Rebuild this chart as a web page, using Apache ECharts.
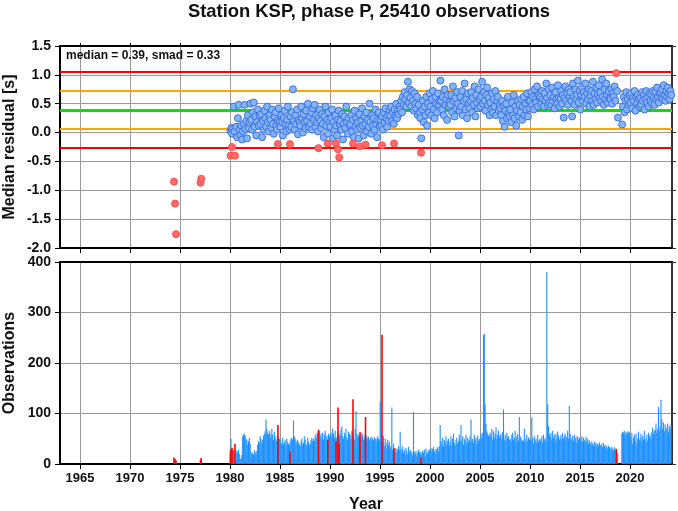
<!DOCTYPE html>
<html><head><meta charset="utf-8">
<script src="https://cdn.jsdelivr.net/npm/echarts@6/dist/echarts.min.js"></script>
<style>html,body{margin:0;padding:0;background:#fff}#c{width:678px;height:511px}</style>
</head><body><div id="c"></div>
<script>
const chartTitle = 'Station KSP, phase P, 25410 observations';
const topAxisName = 'Median residual [s]';
const bottomAxisName = 'Observations';
const medianValue = 0.39;
const smadValue = 0.33;
const xTicks = [1965, 1970, 1975, 1980, 1985, 1990, 1995, 2000, 2005, 2010, 2015, 2020];
const monthlyYears = [1980,1981,1982,1983,1984,1985,1986,1987,1988,1989,1990,1991,1992,1993,1994,1995,1996,1997,1998,1999,2000,2001,2002,2003,2004,2005,2006,2007,2008,2009,2010,2011,2012,2013,2014,2015,2016,2017,2018,2019,2020,2021,2022,2023,2024];
const residualByYear = [
 [0.03,0.08,-0.02,0.06,0.45,0.02,null,0.10,-0.08,0.25,0.48,0.05],
 [-0.05,0.12,-0.12,0.02,0.15,0.48,0.06,0.20,-0.10,0.30,0.08,0.18],
 [0.50,0.22,0.05,0.35,0.52,0.10,0.28,-0.05,0.18,0.40,0.12,0.30],
 [0.15,0.32,-0.08,0.20,0.05,0.38,0.25,0.10,0.45,0.18,0.02,0.30],
 [0.22,0.08,0.40,0.15,-0.02,0.28,0.35,0.12,0.05,0.20,0.42,0.18],
 [0.10,0.30,0.18,-0.05,0.25,0.38,0.15,0.02,0.22,0.45,0.12,0.05],
 [0.28,0.10,0.35,0.75,0.20,0.05,0.30,0.15,0.40,-0.03,0.22,0.18],
 [0.12,0.45,0.25,0.00,0.32,0.18,0.08,0.38,0.20,0.50,0.10,0.28],
 [0.15,0.35,0.05,0.42,0.22,0.48,0.10,0.30,0.18,0.02,0.25,0.40],
 [0.20,0.08,0.32,0.15,-0.08,0.28,0.45,0.12,0.22,-0.02,0.35,0.18],
 [0.10,0.25,0.40,-0.10,0.18,0.05,0.30,0.12,-0.05,0.22,0.38,0.15],
 [0.20,0.05,0.32,-0.12,0.15,0.28,0.08,0.45,0.18,-0.02,0.25,0.12],
 [0.15,0.30,0.02,0.22,-0.08,0.38,0.10,0.25,0.05,0.18,-0.10,0.32],
 [0.08,0.20,0.42,0.12,-0.05,0.28,0.15,0.35,0.02,0.22,0.10,0.50],
 [0.18,-0.02,0.30,0.12,0.25,0.05,0.40,0.15,-0.08,0.22,0.35,0.10],
 [0.22,0.12,0.28,0.05,0.35,0.18,0.42,0.25,0.10,0.30,0.20,0.38],
 [0.30,0.45,0.20,0.35,0.15,0.40,0.28,0.50,0.25,0.38,0.32,0.45],
 [0.40,0.55,0.35,0.62,0.48,0.70,0.58,0.45,0.65,0.88,0.52,0.75],
 [0.60,0.45,0.72,0.55,0.38,0.68,0.50,0.42,0.62,0.30,0.48,0.35],
 [0.25,-0.10,0.40,0.55,0.18,0.45,0.30,0.62,0.12,0.50,0.35,0.68],
 [0.45,0.30,0.58,0.72,0.40,0.25,0.62,0.50,0.35,0.68,0.48,0.55],
 [0.90,0.55,0.40,0.62,0.30,0.75,0.48,0.58,0.22,0.65,0.45,0.52],
 [0.48,0.65,0.35,0.80,0.55,0.28,0.60,0.42,0.70,0.50,-0.05,0.38],
 [0.62,0.45,0.72,0.30,0.55,0.85,0.40,0.58,0.25,0.68,0.50,0.42],
 [0.55,0.70,0.35,0.60,0.48,0.80,0.28,0.65,0.52,0.42,0.75,0.58],
 [0.45,0.62,0.88,0.50,0.70,0.55,0.38,0.65,0.78,0.48,0.60,0.30],
 [0.52,0.40,0.68,0.35,0.58,0.45,0.72,0.30,0.55,0.62,0.38,0.48],
 [0.42,0.30,0.55,0.20,0.45,0.10,0.38,0.50,0.25,0.62,0.35,0.28],
 [0.40,0.18,0.52,0.30,0.65,0.25,0.45,0.12,0.38,0.55,0.28,0.48],
 [0.35,0.58,0.22,0.45,0.62,0.30,0.50,0.40,0.68,0.28,0.55,0.42],
 [0.55,0.70,0.48,0.62,0.40,0.75,0.58,0.52,0.80,0.45,0.65,0.60],
 [0.62,0.50,0.72,0.58,0.45,0.68,0.55,0.85,0.60,0.48,0.75,0.52],
 [0.65,0.48,0.78,0.55,0.62,0.42,0.70,0.58,0.50,0.82,0.60,0.45],
 [0.58,0.72,0.50,0.65,0.26,0.60,0.80,0.55,0.68,0.48,0.75,0.62],
 [0.70,0.55,0.28,0.85,0.62,0.48,0.75,0.58,0.66,0.90,0.52,0.72],
 [0.40,0.65,0.78,0.55,0.70,0.62,0.85,0.50,0.68,0.58,0.75,0.45],
 [0.62,0.72,0.55,0.88,0.48,0.68,0.58,0.78,0.52,0.65,0.82,0.60],
 [0.70,0.55,0.92,0.62,0.48,0.75,0.58,0.85,0.65,0.52,0.72,0.60],
 [0.58,0.75,0.50,0.68,0.62,0.80,0.55,null,0.72,0.26,null,null],
 [null,null,0.14,0.45,0.62,0.35,0.55,0.70,0.40,0.58,0.48,0.65],
 [0.52,0.68,0.42,0.60,0.55,0.72,0.38,0.62,0.50,0.65,0.58,0.45],
 [0.60,0.48,0.70,0.55,0.65,0.40,0.58,0.72,0.52,0.62,0.45,0.68],
 [0.55,0.65,0.50,0.72,0.60,0.48,0.70,0.58,0.78,0.62,0.52,0.68],
 [0.70,0.60,0.75,0.58,0.82,0.65,0.55,0.72,0.62,0.78,0.68,0.58],
 [0.72,0.65]
];
const countByYear = [
 [20,50,30,26,28,24,null,27,22,25,28,20],
 [10,12,18,55,58,60,56,50,48,38,45,52],
 [40,25,20,22,18,27,24,20,26,38,45,42],
 [55,50,40,48,56,60,65,88,70,62,58,66],
 [60,52,70,58,48,64,55,50,45,45,55,50],
 [48,42,40,52,38,44,47,36,50,43,40,38],
 [45,50,52,48,86,55,50,40,45,48,42,38],
 [35,45,50,38,42,55,48,40,36,52,44,38],
 [40,48,52,45,50,46,55,60,52,62,58,65],
 [55,60,50,62,48,58,66,52,56,48,60,54],
 [58,62,55,70,60,52,66,54,50,64,58,56],
 [60,68,74,55,50,62,58,70,52,48,64,60],
 [58,50,66,62,55,48,70,105,60,52,58,54],
 [50,63,55,60,48,52,58,45,56,50,54,47],
 [52,48,54,50,47,53,49,51,46,55,50,48],
 [124,60,45,40,55,35,50,42,30,48,38,44],
 [30,35,112,28,40,25,32,22,30,26,35,28],
 [64,30,25,35,22,28,18,32,26,20,34,24],
 [28,22,25,18,103,24,20,26,15,22,28,25],
 [20,24,18,26,22,28,15,30,24,20,26,28],
 [28,32,24,30,34,26,22,30,28,33,25,35],
 [77,45,40,52,35,48,42,55,38,46,50,36],
 [44,55,38,50,60,42,36,48,52,40,45,58],
 [48,77,42,55,38,50,46,58,40,52,44,48],
 [55,88,45,50,42,58,48,52,40,56,46,50],
 [48,60,52,62,255,258,118,80,65,60,55,58],
 [62,55,70,48,65,52,60,73,50,58,66,54],
 [56,60,50,64,108,48,58,45,62,52,55,47],
 [50,45,58,62,48,52,66,44,55,60,47,93],
 [55,52,48,46,45,70,50,42,58,46,53,49],
 [48,45,92,52,40,55,46,50,42,58,44,48],
 [50,46,55,42,58,48,52,45,380,118,75,60],
 [55,62,48,66,52,58,45,60,50,64,56,48],
 [52,58,46,62,50,55,60,48,54,66,50,115],
 [60,52,48,56,45,58,50,54,42,55,48,52],
 [50,46,55,44,52,48,42,54,45,50,40,47],
 [42,38,45,40,36,44,39,42,35,40,37,43],
 [38,35,40,33,42,36,32,38,34,30,36,33],
 [32,28,34,30,26,33,29,null,24,20,null,null],
 [null,null,60,64,62,66,58,63,60,65,61,64],
 [55,48,62,40,52,58,45,60,38,50,64,47],
 [52,60,44,56,48,66,50,42,58,46,62,54],
 [58,50,64,72,60,66,68,80,62,70,113,65],
 [75,127,88,70,82,65,78,72,68,80,62,75],
 [70,78]
];
// flagged (red) entries
const redTimes =     [1974.40,1974.50,1974.60,1977.05,1977.12,1980.05,1980.20,1980.50,1984.79,1986.00,1988.85,1989.78,1990.60,1990.80,1990.92,1992.30,1993.00,1993.55,1995.20,1996.40,1999.10,2018.62];
const redResiduals = [-0.85,-1.23,-1.76,-0.87,-0.80,-0.40,-0.25,-0.40,-0.20,-0.20,-0.27,-0.19,-0.19,-0.29,-0.43,-0.19,-0.24,-0.21,-0.22,-0.19,-0.35,1.03];
const redCounts =    [13,10,7,8,12,28,32,40,77,25,68,48,45,112,40,128,63,93,256,31,13,30];

const FONT = '"Liberation Sans", Arial, Helvetica, sans-serif';
const blueScatter = [], blueBars = [];
monthlyYears.forEach((y, i) => {
  residualByYear[i].forEach((v, m) => {
    const t = y + (m + 0.5) / 12;
    if (v !== null) blueScatter.push([t, v]);
    const c = countByYear[i][m];
    if (c !== null && c !== undefined) blueBars.push([t, c]);
  });
});
const redScatter = redTimes.map((t, i) => [t, redResiduals[i]]);
const redBars = redTimes.map((t, i) => [t, redCounts[i]]);

const refLines = [
  { v: medianValue + 2 * smadValue, c: '#ff0000', w: 2 },
  { v: medianValue - 2 * smadValue, c: '#ff0000', w: 2 },
  { v: medianValue + smadValue, c: '#ffa500', w: 2 },
  { v: medianValue - smadValue, c: '#ffa500', w: 2 },
  { v: medianValue, c: '#00e600', w: 3 }
];

const XMIN = 1963, XMAX = 2024.2;
function xAxisCfg(gridIndex, pos, opts) {
  return Object.assign({
    type: 'value', gridIndex: gridIndex, position: pos, min: XMIN, max: XMAX,
    axisLine: { show: true, onZero: false, lineStyle: { color: '#000', width: 2 } },
    axisTick: { show: true, customValues: xTicks, length: 5, lineStyle: { color: '#000', width: 1 } },
    axisLabel: { show: false },
    splitLine: { show: false }
  }, opts);
}
function yAxisCfg(gridIndex, pos, min, max, interval, opts) {
  return Object.assign({
    type: 'value', gridIndex: gridIndex, position: pos, min: min, max: max, interval: interval,
    axisLine: { show: true, onZero: false, lineStyle: { color: '#000', width: 2 } },
    axisTick: { show: true, length: 5, lineStyle: { color: '#000', width: 1 } },
    axisLabel: { show: false },
    splitLine: { show: false }
  }, opts);
}
const labelStyle = { fontFamily: FONT, fontWeight: 'bold', fontSize: 14, color: '#111' };
const nameStyle = { fontFamily: FONT, fontWeight: 'bold', fontSize: 16, color: '#111' };
const gridLineStyle = { show: true, lineStyle: { color: '#9a9a9a', width: 1 } };

function sideName(text, cy) {
  return {
    type: 'text', x: 10, y: cy, rotation: Math.PI / 2, z: 10,
    style: { text: text, fill: '#111', font: 'bold 16px ' + FONT, align: 'center', verticalAlign: 'middle', textAlign: 'center', textVerticalAlign: 'middle' }
  };
}

const chart = echarts.init(document.getElementById('c'), null, { renderer: 'canvas' });
chart.setOption({
  backgroundColor: '#fff',
  animation: false,
  title: [
    { text: chartTitle, left: 364, top: -2, textAlign: 'center',
      textStyle: { fontFamily: FONT, fontWeight: 'bold', fontSize: 18.4, color: '#111' } },
    { text: 'median = ' + medianValue.toFixed(2) + ', smad = ' + smadValue.toFixed(2), left: 61, top: 45,
      textStyle: { fontFamily: FONT, fontWeight: 'bold', fontSize: 12, color: '#111' } }
  ],
  graphic: [ sideName(topAxisName, 147), sideName(bottomAxisName, 363) ],
  grid: [
    { left: 60, top: 46, width: 612, height: 202, containLabel: false, outerBoundsMode: 'none' },
    { left: 60, top: 262, width: 612, height: 202, containLabel: false, outerBoundsMode: 'none' }
  ],
  xAxis: [
    xAxisCfg(0, 'bottom', { splitLine: gridLineStyle }),
    xAxisCfg(0, 'top', { axisTick: { show: true, customValues: xTicks, length: 3, lineStyle: { color: '#000' } } }),
    xAxisCfg(1, 'bottom', {
      splitLine: gridLineStyle,
      axisLabel: Object.assign({ show: true, customValues: xTicks, margin: 8, formatter: v => String(v) }, labelStyle, { fontSize: 13 }),
      name: 'Year', nameLocation: 'middle', nameGap: 33, nameTextStyle: nameStyle
    }),
    xAxisCfg(1, 'top', { axisTick: { show: false } })
  ],
  yAxis: [
    yAxisCfg(0, 'left', -2, 1.5, 0.5, {
      splitLine: gridLineStyle,
      axisLabel: Object.assign({ show: true, margin: 9, formatter: v => v.toFixed(1) }, labelStyle)
    }),
    yAxisCfg(0, 'right', -2, 1.5, 0.5, { axisLine: { show: true, onZero: false, lineStyle: { color: '#333', width: 2 } }, axisTick: { show: true, length: 4, lineStyle: { color: '#333' } } }),
    yAxisCfg(1, 'left', 0, 400, 100, {
      splitLine: gridLineStyle,
      axisLabel: Object.assign({ show: true, margin: 9 }, labelStyle)
    }),
    yAxisCfg(1, 'right', 0, 400, 100, { axisLine: { show: true, onZero: false, lineStyle: { color: '#333', width: 2 } }, axisTick: { show: true, length: 4, lineStyle: { color: '#333' } } })
  ],
  series: [
    {
      type: 'line', xAxisIndex: 0, yAxisIndex: 0, data: [], z: 1, silent: true,
      markLine: {
        silent: true, symbol: 'none', animation: false, label: { show: false },
        data: refLines.map(l => ({ yAxis: l.v, lineStyle: { color: l.c, width: l.w, type: 'solid' } }))
      }
    },
    {
      type: 'scatter', xAxisIndex: 0, yAxisIndex: 0, z: 5, symbol: 'circle', symbolSize: 7,
      data: blueScatter,
      itemStyle: { color: '#82b4f6', borderColor: '#3f6fe3', borderWidth: 1, opacity: 1 }
    },
    {
      type: 'scatter', xAxisIndex: 0, yAxisIndex: 0, z: 6, symbol: 'circle', symbolSize: 7,
      data: redScatter,
      itemStyle: { color: '#ff6b6b', borderColor: '#ff4a4a', borderWidth: 1, opacity: 1 }
    },
    {
      type: 'bar', xAxisIndex: 2, yAxisIndex: 2, z: 3, data: blueBars, barWidth: 1.1, barGap: '-100%',
      itemStyle: { color: '#1e90ff' }
    },
    {
      type: 'bar', xAxisIndex: 2, yAxisIndex: 2, z: 4, data: redBars, barWidth: 1.6, barGap: '-100%',
      itemStyle: { color: '#ff0000' }
    }
  ]
});
</script></body></html>
